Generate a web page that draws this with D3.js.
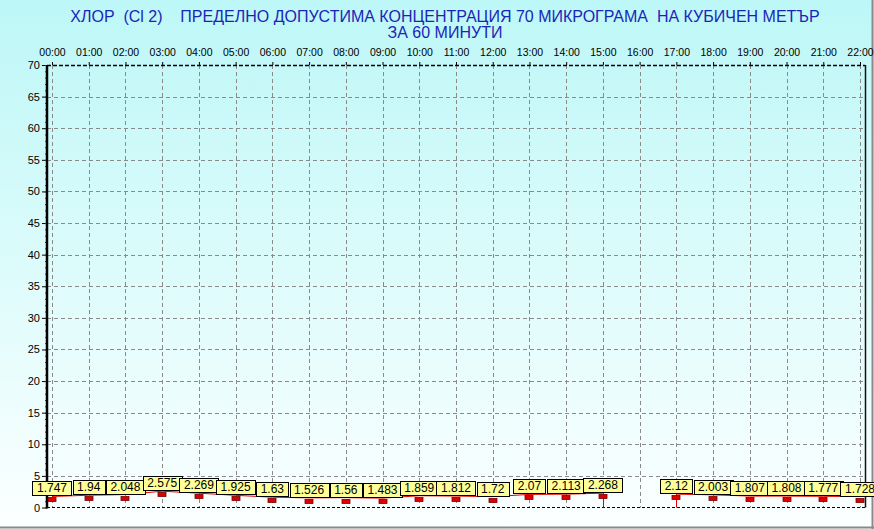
<!DOCTYPE html>
<html><head><meta charset="utf-8">
<script src="https://cdn.jsdelivr.net/npm/d3@7"></script>
<style>body{margin:0;padding:0;overflow:hidden}svg{display:block}text{font-family:"Liberation Sans",Arial,sans-serif}</style>
</head><body>
<script>
const titleLines = ["ХЛОР  (Cl 2)    ПРЕДЕЛНО ДОПУСТИМА КОНЦЕНТРАЦИЯ 70 МИКРОГРАМА  НА КУБИЧЕН МЕТЪР", "ЗА 60 МИНУТИ"];
const hours = [0,1,2,3,4,5,6,7,8,9,10,11,12,13,14,15,16,17,18,19,20,21,22];
const hourLabels = ["00:00","01:00","02:00","03:00","04:00","05:00","06:00","07:00","08:00","09:00","10:00","11:00","12:00","13:00","14:00","15:00","16:00","17:00","18:00","19:00","20:00","21:00","22:00"];
const values = [1.747,1.94,2.048,2.575,2.269,1.925,1.63,1.526,1.56,1.483,1.859,1.812,1.72,2.07,2.113,2.268,null,2.12,2.003,1.807,1.808,1.777,1.728];
const valueLabels = ["1.747","1.94","2.048","2.575","2.269","1.925","1.63","1.526","1.56","1.483","1.859","1.812","1.72","2.07","2.113","2.268",null,"2.12","2.003","1.807","1.808","1.777","1.728"];
const yTicks = [0,5,10,15,20,25,30,35,40,45,50,55,60,65,70];

const W = 874, H = 529;
const L = 47, R = 865, T = 65, B = 507.5;
const svg = d3.select("body").append("svg").attr("width", W).attr("height", H);
const defs = svg.append("defs");
const g = defs.append("linearGradient").attr("id","bg").attr("x1",0).attr("y1",0).attr("x2",0).attr("y2",1);
g.append("stop").attr("offset","0%").attr("stop-color","#bdf7f7");
g.append("stop").attr("offset","100%").attr("stop-color","#fcffff");
svg.append("rect").attr("width",W).attr("height",H).attr("fill","url(#bg)");
// frame lines
svg.append("line").attr("x1",0).attr("x2",W).attr("y1",527.5).attr("y2",527.5).attr("stroke","#8a8a8a").attr("stroke-width",2);
svg.append("line").attr("x1",872.5).attr("x2",872.5).attr("y1",0).attr("y2",H).attr("stroke","#8a8a8a").attr("stroke-width",2);

const x = d3.scaleLinear().domain([0,22]).range([52,860]);
const y = d3.scaleLinear().domain([0,70]).range([B,T]);

// title
titleLines.forEach((t,i)=>{
  svg.append("text").attr("x",445).attr("y",22+i*16).attr("text-anchor","middle")
    .attr("font-size",16).attr("fill","#1a26b8").style("white-space","pre").text(t);
});

// grid
const grid = svg.append("g");
grid.selectAll("line.v").data(hours).join("line")
  .attr("x1",d=>Math.round(x(d))+0.5).attr("x2",d=>Math.round(x(d))+0.5)
  .attr("y1",T).attr("y2",B).attr("stroke","#8a8a8a").attr("stroke-dasharray","4,3");
grid.selectAll("line.h").data(yTicks.filter(d=>d>0&&d<70)).join("line")
  .attr("x1",L).attr("x2",R).attr("y1",d=>Math.round(y(d))+0.5).attr("y2",d=>Math.round(y(d))+0.5)
  .attr("stroke","#8a8a8a").attr("stroke-dasharray","4,3");

// borders
svg.append("line").attr("x1",L).attr("x2",R).attr("y1",T+0.5).attr("y2",T+0.5).attr("stroke","#000").attr("stroke-width",1.5).attr("stroke-dasharray","4,2");
svg.append("line").attr("x1",L).attr("x2",R).attr("y1",B).attr("y2",B).attr("stroke","#000").attr("stroke-width",1).attr("stroke-dasharray","3,2");
svg.append("line").attr("x1",R+0.5).attr("x2",R+0.5).attr("y1",T).attr("y2",B).attr("stroke","#111").attr("stroke-width",1.5);

// left axis
const yAxis = d3.axisLeft(y).tickValues(yTicks).tickSize(5).tickPadding(2).tickFormat(d3.format("d"));
const ya = svg.append("g").attr("transform",`translate(${L},0)`).call(yAxis);
ya.select(".domain").remove();
ya.selectAll("text").attr("font-size",11).attr("fill","#000").attr("font-family","Liberation Sans, Arial, sans-serif");
ya.selectAll("line").attr("stroke","#000");
const yMinor = d3.axisLeft(y).tickValues(d3.range(0,71,1)).tickSize(2).tickFormat("");
const ym = svg.append("g").attr("transform",`translate(${L},0)`).call(yMinor);
ym.select(".domain").remove();
ym.selectAll("line").attr("stroke","#444");
svg.append("line").attr("x1",L).attr("x2",L).attr("y1",T).attr("y2",B+1).attr("stroke","#000").attr("stroke-width",2.5);

// top axis
const xAxis = d3.axisTop(x).tickValues(hours).tickSize(3).tickPadding(6).tickFormat((d,i)=>hourLabels[i]);
const xa = svg.append("g").attr("transform",`translate(0,${T})`).call(xAxis);
xa.select(".domain").remove();
xa.selectAll("text").attr("font-size",10.5).attr("fill","#000").attr("font-family","Liberation Sans, Arial, sans-serif");
xa.selectAll("line").attr("stroke","#000");

// data
const pts = hours.map((h,i)=>({h, v: values[i], lab: valueLabels[i]}));
const line = d3.line().defined(d=>d.v!==null).x(d=>x(d.h)).y(d=>y(d.v));
svg.append("path").datum(pts).attr("d",line).attr("fill","none").attr("stroke","#e00000").attr("stroke-width",1);
// drop lines next to the gap
const drops = pts.filter((d,i)=>d.v!==null && ((pts[i+1] && pts[i+1].v===null) || (pts[i-1] && pts[i-1].v===null)));
svg.selectAll("line.drop").data(drops).join("line")
  .attr("x1",d=>Math.round(x(d.h))+0.5).attr("x2",d=>Math.round(x(d.h))+0.5)
  .attr("y1",d=>y(d.v)).attr("y2",B).attr("stroke","#e00000").attr("stroke-width",1);
const valid = pts.filter(d=>d.v!==null);
svg.selectAll("rect.mk").data(valid).join("rect")
  .attr("x",d=>Math.round(x(d.h))-4).attr("y",d=>Math.round(y(d.v))+1.5).attr("width",8).attr("height",4)
  .attr("fill","#dd0000").attr("stroke","#7a0000").attr("stroke-width",0.8);
const lbl = svg.selectAll("g.lb").data(valid).join("g");
lbl.each(function(d){
  const gg = d3.select(this);
  const r = gg.append("rect");
  const t = gg.append("text").attr("font-size",12).attr("fill","#000").attr("text-anchor","middle")
    .attr("x",x(d.h)).attr("y",Math.round(y(d.v))-4).text(d.lab);
  const w = t.node().getComputedTextLength()+9;
  r.attr("x",Math.round(x(d.h)-w/2)+0.5).attr("y",Math.round(y(d.v))-14.5).attr("width",Math.round(w)).attr("height",14)
   .attr("fill","#ffff99").attr("stroke","#000").attr("stroke-width",1);
});
</script>
</body></html>
